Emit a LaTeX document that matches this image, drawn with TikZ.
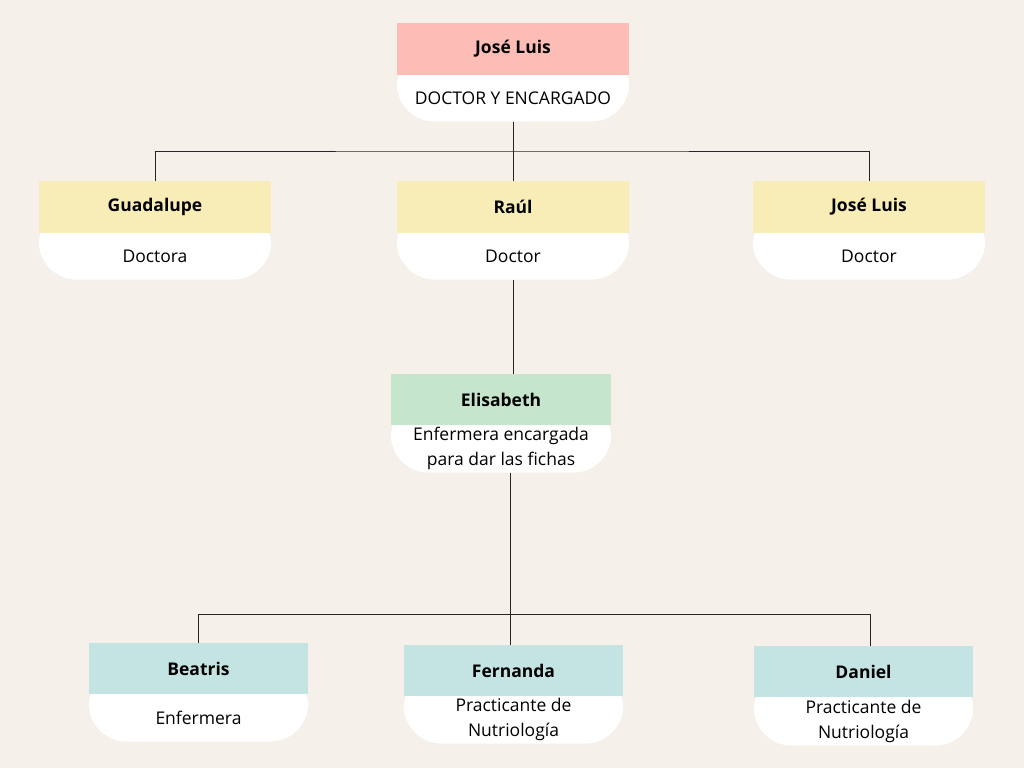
\documentclass[tikz,border=0pt]{standalone}
\usepackage{fontspec}
\setmainfont{Open Sans}
\usetikzlibrary{positioning, calc, backgrounds}

\definecolor{pagebg}{HTML}{F5F0EA}
\definecolor{pinkhead}{HTML}{FBBDB6}
\definecolor{yellowhead}{HTML}{F9EDB7}
\definecolor{greenhead}{HTML}{C5E5CC}
\definecolor{tealhead}{HTML}{C3E4E2}

\tikzset{
  head/.style={minimum width=#1, minimum height=52pt, inner sep=0pt,
    font=\bfseries\fontsize{17.5}{20}\selectfont},
  head/.default=232pt,
  body/.style={minimum width=#1, minimum height=46pt, inner sep=0pt, align=center,
    font=\fontsize{17.5}{25}\selectfont},
  body/.default=232pt,
  link/.style={black!85, line width=1pt}
}

\begin{document}
\begin{tikzpicture}[x=1pt, y=-1pt]
      \useasboundingbox (0, 0) rectangle (1024, 768);

      % top
      \node[head, fill=pinkhead] (h0) at (513, 49) {José Luis};
      \node[body, below=0pt of h0] (b0) {DOCTOR Y ENCARGADO};

      % doctors
      \node[head, fill=yellowhead] (hG) at (155, 207) {Guadalupe};
      \node[body, below=0pt of hG] (bG) {Doctora};
      \node[head, fill=yellowhead] (hR) at (513, 207) {Raúl};
      \node[body, below=0pt of hR] (bR) {Doctor};
      \node[head, fill=yellowhead] (hJ) at (869, 207) {José Luis};
      \node[body, below=0pt of hJ] (bJ) {Doctor};

      % nurse in charge
      \node[head=220pt, fill=greenhead, minimum height=51pt] (hE) at (501, 399.5) {Elisabeth};
      \node[body=220pt, minimum height=47pt, below=0pt of hE] (bE) {Enfermera encargada\\para dar las fichas};

      % staff
      \node[head=219pt, fill=tealhead, minimum height=51pt] (hB) at (198.5, 668.5) {Beatris};
      \node[body=219pt, minimum height=47pt, below=0pt of hB] (bB) {Enfermera};
      \node[head=219pt, fill=tealhead, minimum height=51pt] (hF) at (513.5, 670.5) {Fernanda};
      \node[body=219pt, minimum height=47pt, below=0pt of hF] (bF) {Practicante de\\Nutriología};
      \node[head=219pt, fill=tealhead, minimum height=51pt] (hD) at (863.5, 671.5) {Daniel};
      \node[body=219pt, minimum height=48pt, below=0pt of hD] (bD) {Practicante de\\Nutriología};

      % connectors
      \coordinate (tm) at (512, 151);
      \coordinate (bl) at (198, 614);
      \coordinate (bm) at (510, 614);
      \coordinate (br) at (870, 614);

      \draw[link] (b0.south) -- (hR.north);
      \draw[link] (hG.north) |- (tm) -| (hJ.north);
      \draw[link] (bR.south) -- (bR.south |- hE.north);
      \draw[link] (bE.south -| bm) -- (bm);
      \draw[link] (hB.north -| bl) -- (bl) -- (br) -- (br |- hD.north);
      \draw[link] (bm) -- (bm |- hF.north);

      \begin{scope}[on background layer]
        \fill[pagebg] (0, 0) rectangle (1024, 768);
        \foreach \n in {0, G, R, J, E, B, F, D}
          \fill[white, rounded corners=38pt] (h\n.west) rectangle (b\n.south east);
      \end{scope}

\end{tikzpicture}
\end{document}
